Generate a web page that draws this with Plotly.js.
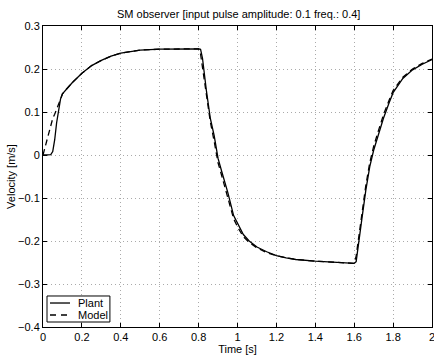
<!DOCTYPE html>
<html>
<head>
<meta charset="utf-8">
<script src="https://cdn.plot.ly/plotly-3.0.1.min.js"></script>
<style>html,body{margin:0;padding:0;background:#fff;}#chart{width:434px;height:356px;}</style>
</head>
<body>
<div id="chart"></div>
<script>
const time = [0, 0.02, 0.04, 0.05, 0.06, 0.07, 0.08, 0.09, 0.1, 0.12, 0.15, 0.2, 0.25, 0.3, 0.35, 0.4, 0.45, 0.5, 0.6, 0.7, 0.8, 0.81, 0.82, 0.84, 0.86, 0.88, 0.9, 0.92, 0.95, 0.98, 1.0, 1.03, 1.06, 1.1, 1.15, 1.2, 1.25, 1.3, 1.4, 1.5, 1.6, 1.61, 1.62, 1.64, 1.66, 1.68, 1.7, 1.72, 1.75, 1.78, 1.8, 1.85, 1.9, 1.95, 2.0];
const plant = [0, 0, 0.001, 0.008, 0.035, 0.075, 0.105, 0.13, 0.142, 0.153, 0.168, 0.19, 0.208, 0.22, 0.23, 0.237, 0.241, 0.244, 0.246, 0.247, 0.247, 0.246, 0.225, 0.15, 0.086, 0.045, -0.008, -0.04, -0.087, -0.141, -0.16, -0.185, -0.2, -0.214, -0.225, -0.234, -0.239, -0.243, -0.247, -0.25, -0.252, -0.248, -0.21, -0.147, -0.081, -0.027, 0.011, 0.04, 0.085, 0.122, 0.145, 0.178, 0.198, 0.211, 0.222];
const model = [0, 0.035, 0.07, 0.085, 0.095, 0.105, 0.118, 0.13, 0.142, 0.153, 0.168, 0.19, 0.208, 0.22, 0.23, 0.237, 0.241, 0.244, 0.246, 0.247, 0.247, 0.235, 0.205, 0.14, 0.078, 0.032, -0.018, -0.05, -0.098, -0.148, -0.167, -0.19, -0.203, -0.216, -0.227, -0.234, -0.239, -0.243, -0.247, -0.25, -0.252, -0.235, -0.2, -0.135, -0.07, -0.018, 0.02, 0.05, 0.093, 0.128, 0.15, 0.181, 0.2, 0.213, 0.223];
const xTicks = [0, 0.2, 0.4, 0.6, 0.8, 1, 1.2, 1.4, 1.6, 1.8, 2];
const yTicks = [-0.4, -0.3, -0.2, -0.1, 0, 0.1, 0.2, 0.3];
const seriesNames = ['Plant', 'Model'];

const font = {family: 'Liberation Sans, Arial, sans-serif', size: 11, color: '#000'};
const dashStyle = '6px,4px';
const traces = [
  {x: time, y: plant, name: seriesNames[0], mode: 'lines', line: {color: '#000', width: 1.3, dash: 'solid'}},
  {x: time, y: model, name: seriesNames[1], mode: 'lines', line: {color: '#000', width: 1.3, dash: dashStyle}}
];
const axisCommon = {
  showline: true, linecolor: '#000', linewidth: 1, mirror: 'ticks',
  ticks: 'inside', ticklen: 4, tickcolor: '#000',
  showgrid: true, gridcolor: '#aaa', griddash: '1px,3px', gridwidth: 1,
  zeroline: false, tickfont: font, ticklabeloverflow: 'allow'
};
// legend box drawn manually (compact MATLAB-style)
const lg = {x0: 0.0103, x1: 0.172, y0: 0.0166, y1: 0.103, lx0: 0.018, lx1: 0.0694, tx: 0.0848, ys: [0.0797, 0.0399]};
const shapes = [
  {type: 'rect', xref: 'paper', yref: 'paper', x0: lg.x0, x1: lg.x1, y0: lg.y0, y1: lg.y1, line: {color: '#000', width: 1}, fillcolor: '#fff', layer: 'above'},
  {type: 'line', xref: 'paper', yref: 'paper', x0: lg.lx0, x1: lg.lx1, y0: lg.ys[0], y1: lg.ys[0], line: {color: '#000', width: 1.3}},
  {type: 'line', xref: 'paper', yref: 'paper', x0: lg.lx0, x1: lg.lx1, y0: lg.ys[1], y1: lg.ys[1], line: {color: '#000', width: 1.3, dash: '6px,5px'}}
];
const annotations = seriesNames.map((n, i) => ({
  xref: 'paper', yref: 'paper', x: lg.tx, y: lg.ys[i], text: n, showarrow: false,
  xanchor: 'left', yanchor: 'middle', font: font
}));
const layout = {
  width: 434, height: 356,
  margin: {l: 43, r: 2, t: 26, b: 29},
  paper_bgcolor: '#fff', plot_bgcolor: '#fff',
  font: font,
  title: {text: 'SM observer [input pulse amplitude: 0.1 freq.: 0.4]', font: {family: font.family, size: 11, color: '#000'}, x: 0.55, xanchor: 'center', y: 0.96, yanchor: 'middle'},
  xaxis: Object.assign({}, axisCommon, {range: [0, 2], tickvals: xTicks, ticktext: xTicks.map(String),
    title: {text: 'Time [s]', font: font, standoff: 1}}),
  yaxis: Object.assign({}, axisCommon, {range: [-0.4, 0.3], tickvals: yTicks,
    ticktext: yTicks.map(v => v < 0 ? '\u2212' + String(-v) : String(v)),
    title: {text: 'Velocity [m/s]', font: font, standoff: 0}}),
  showlegend: false,
  shapes: shapes,
  annotations: annotations
};
Plotly.newPlot('chart', traces, layout, {displayModeBar: false, staticPlot: true});
</script>
</body>
</html>
